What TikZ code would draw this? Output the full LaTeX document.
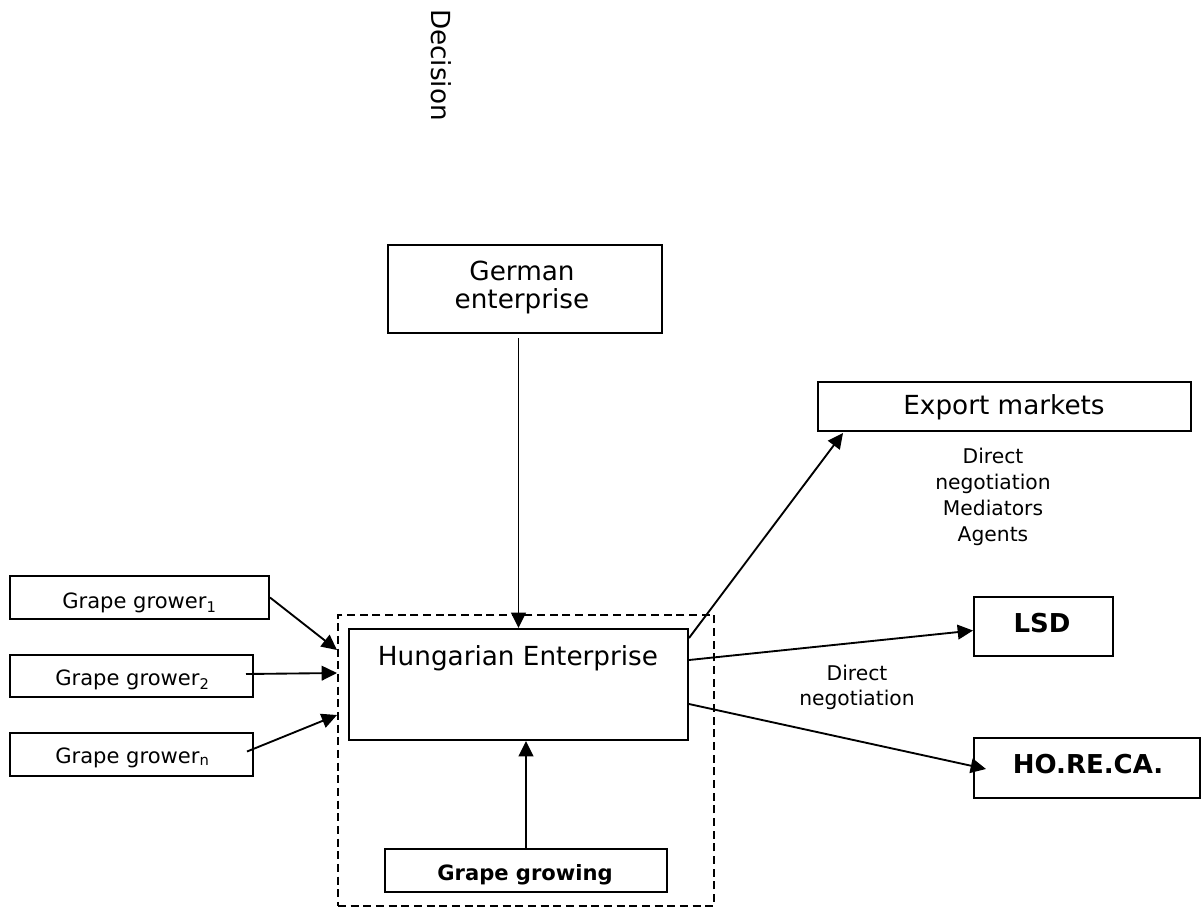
\documentclass[tikz,border=0pt]{standalone}
\usepackage{fontspec}
\setmainfont{DejaVu Sans}
\usetikzlibrary{arrows.meta,calc}

\begin{document}
\begin{tikzpicture}[x=0.75pt,y=-0.75pt,
  box/.style={draw, line width=1.5pt, rectangle, inner sep=0pt, anchor=north west},
  dashbox/.style={draw, line width=1.4pt, rectangle, inner sep=0pt, anchor=north west, dash pattern=on 6pt off 3.5pt},
  txt/.style={inner sep=0pt, anchor=base},
  big/.style={font=\fontsize{19.7pt}{24pt}\selectfont},
  mid/.style={font=\fontsize{15.8pt}{19pt}\selectfont},
  small/.style={font=\fontsize{15.2pt}{18pt}\selectfont},
  bigbold/.style={font=\fontsize{19.5pt}{24pt}\selectfont\bfseries},
  midbold/.style={font=\fontsize{15.8pt}{19pt}\selectfont\bfseries},
  link/.style={line width=1.4pt, -{Triangle[length=11.5pt,width=11pt]}}
]
\useasboundingbox (0,0) rectangle (1202,908);

% heading
\node[big, rotate=-90, inner sep=0pt] (dec) at (441,65) {Decision};

% boxes
\node[box, minimum width=274*0.75pt, minimum height=88*0.75pt] (ger) at (387,244) {};
\node[dashbox, minimum width=376*0.75pt, minimum height=291*0.75pt] (ent) at (337,614) {};
\node[box, fill=white, minimum width=339*0.75pt, minimum height=111*0.75pt] (hu) at (348,628) {};
\node[box, minimum width=282*0.75pt, minimum height=43*0.75pt] (gg) at (384,848) {};
\node[box, minimum width=259*0.75pt, minimum height=43*0.75pt] (g1) at (9,575) {};
\node[box, minimum width=243*0.75pt, minimum height=42*0.75pt] (g2) at (9,654) {};
\node[box, minimum width=243*0.75pt, minimum height=43*0.75pt] (g3) at (9,732) {};
\node[box, minimum width=373*0.75pt, minimum height=49*0.75pt] (exp) at (817,381) {};
\node[box, minimum width=139*0.75pt, minimum height=59*0.75pt] (lsd) at (973,596) {};
\node[box, minimum width=226*0.75pt, minimum height=60*0.75pt] (hor) at (973,737) {};

% box texts
\node[txt, big] (gerA) at (522,280) {German};
\node[txt, big] (gerB) at (522,308) {enterprise};
\node[txt, big] (huT) at (518,665) {Hungarian Enterprise};
\node[txt, midbold] (ggT) at (525,880) {Grape growing};
\node[txt, mid, anchor=base west] (g1T) at (62,608) {Grape grower\textsubscript{1}};
\node[txt, mid, anchor=base west] (g2T) at (55,685) {Grape grower\textsubscript{2}};
\node[txt, mid, anchor=base west] (g3T) at (55,763) {Grape grower\textsubscript{n}};
\node[txt, big] (expT) at (1004,414) {Export markets};
\node[txt, bigbold] (lsdT) at (1042,632) {LSD};
\node[txt, bigbold] (horT) at (1088,773) {HO.RE.CA.};

% channel labels
\node[txt, small] (c1) at (993,463) {Direct};
\node[txt, small] (c2) at (993,489) {negotiation};
\node[txt, small] (c3) at (993,515) {Mediators};
\node[txt, small] (c4) at (993,541) {Agents};
\node[txt, small] (d1) at (857,680) {Direct};
\node[txt, small] (d2) at (857,705) {negotiation};

% connectors
\draw[link] ($(ger.south -| hu.north)+(0,4)$) -- (hu.north);
\draw[link] (gg.north) -- (gg.north |- hu.south);
\draw[link] (g1.east) -- ($(ent.north west)+(0,36)$);
\draw[link] ($(g2.east)+(-8,-2)$) -- ($(ent.north west)+(0,59)$);
\draw[link] ($(g3.east)+(-7,-3)$) -- ($(ent.north west)+(0,101)$);
\draw[link] ($(hu.north east)+(0,10)$) -- ($(exp.south west)+(26,1)$);
\draw[link] ($(hu.north east)+(0,32)$) -- ($(lsd.west)+(0,4)$);
\draw[link] ($(hu.north east)+(0,76)$) -- ($(hor.west)+(13,1)$);
\end{tikzpicture}
\end{document}
